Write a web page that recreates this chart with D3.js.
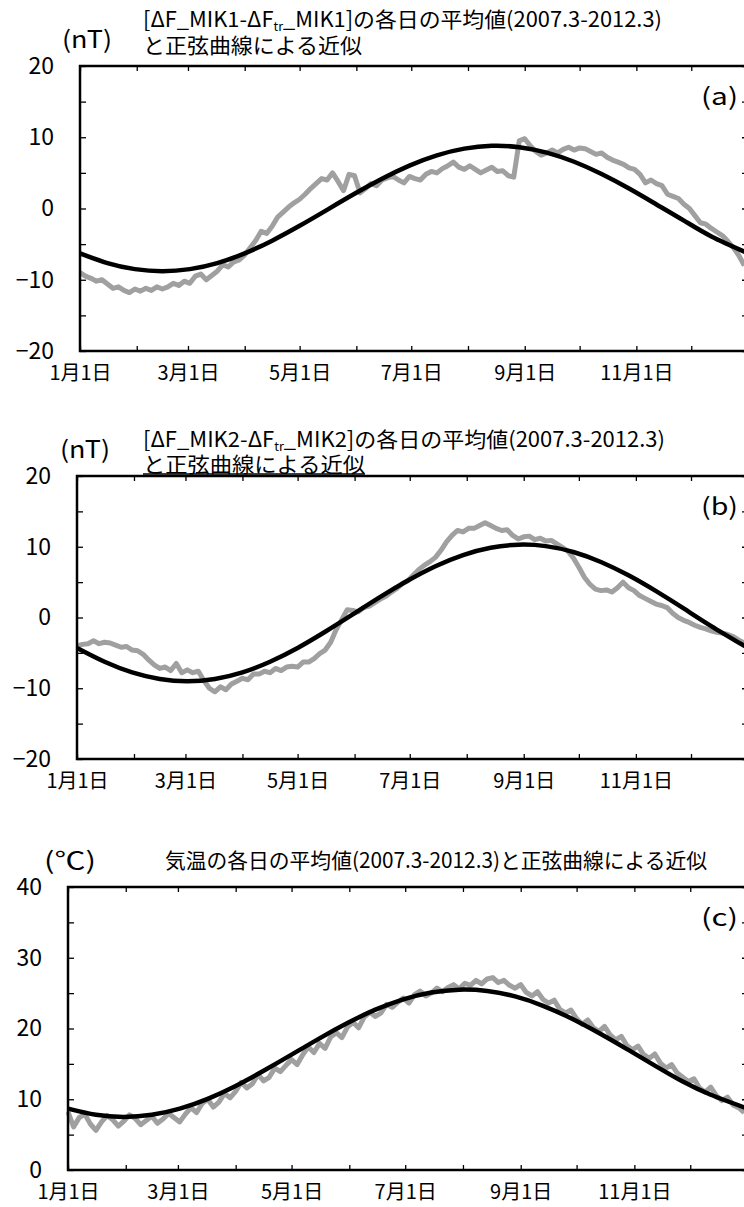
<!DOCTYPE html>
<html><head><meta charset="utf-8">
<script src="https://cdn.jsdelivr.net/npm/d3@7"></script>
<style>
html,body{margin:0;padding:0;background:#fff;}
svg{display:block;}
text{font-family:"Noto Sans CJK JP","Noto Sans",sans-serif;fill:#000;}
</style></head>
<body>
<script>
// ---- data ----
const monthStarts = [0,31,59,90,120,151,181,212,243,273,304,334,365];
const xTickLabels = ["1月1日","","3月1日","","5月1日","","7月1日","","9月1日","","11月1日","",""];
const yTicksNT = [-20,-15,-10,-5,0,5,10,15,20];
const yTicksC = [0,5,10,15,20,25,30,35,40];

const grayDays = d3.range(0, 364, 3); // every 3rd day of the year
const grayA = [-9.0,-9.5,-9.8,-10.2,-10.0,-10.6,-11.2,-11.0,-11.5,-11.8,
 -11.3,-11.6,-11.2,-11.5,-11.0,-11.3,-11.0,-10.5,-10.8,-10.2,
 -10.5,-9.5,-9.2,-10.0,-9.4,-8.8,-7.9,-8.2,-7.5,-7.2,
 -6.5,-5.5,-4.5,-3.2,-3.5,-2.5,-1.2,-0.5,0.2,0.8,
 1.3,2.0,2.8,3.5,4.2,4.0,5.0,3.8,2.5,4.8,
 4.6,2.2,2.8,3.5,3.2,4.0,4.3,4.5,4.0,3.6,
 4.5,4.2,4.0,4.8,5.2,5.0,5.6,6.0,6.5,5.8,
 5.5,6.0,5.5,5.0,5.4,5.8,5.2,5.3,4.6,4.4,
 9.5,9.8,8.8,8.0,7.5,7.8,8.2,7.8,8.3,8.6,
 8.2,8.5,8.4,8.0,7.6,7.8,7.2,6.8,6.5,6.2,
 5.7,5.5,4.8,3.6,4.0,3.5,3.2,2.0,1.7,1.4,
 0.6,0.0,-1.0,-2.0,-2.2,-2.8,-3.3,-3.8,-4.6,-5.5,
 -6.6,-8.0];
const grayB = [-4.0,-3.8,-3.7,-3.3,-3.7,-3.5,-3.6,-3.9,-4.2,-4.1,
 -4.6,-4.7,-5.2,-6.0,-6.7,-7.2,-7.0,-7.5,-6.5,-7.8,
 -7.4,-7.8,-7.6,-8.9,-10.0,-10.5,-9.8,-10.2,-9.4,-9.0,
 -8.6,-8.8,-8.0,-8.0,-7.6,-7.8,-7.2,-7.5,-7.0,-6.9,
 -7.0,-6.3,-6.3,-5.8,-5.1,-4.6,-3.5,-1.7,-0.3,1.1,
 1.0,0.8,1.4,1.6,2.1,2.6,3.0,3.6,4.1,4.8,
 5.2,6.0,6.8,7.4,7.9,8.5,9.5,10.7,11.6,12.3,
 12.1,12.6,12.6,13.0,13.4,13.0,12.6,12.3,12.4,11.6,
 11.1,11.4,11.5,11.0,11.2,10.8,10.9,10.4,9.9,9.4,
 8.4,7.1,5.7,4.7,4.0,3.8,3.9,3.6,4.2,5.0,
 4.2,3.8,3.1,2.7,2.3,1.9,1.7,1.4,0.6,0.0,
 -0.4,-0.7,-1.1,-1.4,-1.6,-1.9,-2.1,-2.2,-2.4,-2.7,
 -3.2,-3.6];
const grayC = [8.2,6.1,7.4,7.9,6.5,5.6,6.8,7.7,7.1,6.2,
 6.9,7.8,7.3,6.4,7.0,7.6,6.6,7.2,8.0,7.4,
 6.8,7.9,8.8,8.1,9.4,10.0,8.9,9.6,10.8,10.2,
 11.1,12.4,11.6,12.2,13.5,12.6,13.1,14.4,13.9,14.8,
 15.6,14.9,16.3,17.4,16.6,17.9,17.2,18.8,19.4,18.7,
 20.2,20.9,20.1,21.6,22.3,21.7,22.2,23.4,23.0,23.7,
 24.3,23.6,24.8,25.3,24.6,25.0,25.7,25.2,25.8,26.2,
 25.6,26.4,26.1,26.8,26.3,27.0,27.2,26.5,26.8,26.1,
 25.7,26.2,25.1,24.6,25.2,24.1,23.6,24.0,22.7,22.2,
 22.6,21.4,20.6,21.2,20.1,19.6,20.3,19.1,18.4,18.9,
 17.6,17.0,17.5,16.3,15.8,16.4,15.1,14.4,14.9,13.7,
 13.1,12.5,12.9,11.6,11.0,11.7,10.5,9.8,10.3,9.2,
 8.8,8.1];

const fitDays = [0,15,30,45,60,75,90,105,120,135,150,165,180,195,210,225,240,255,270,285,300,315,330,345,364];
const fitA = [-6.29,-7.66,-8.51,-8.80,-8.51,-7.66,-6.29,-4.51,-2.43,-0.19,2.06,4.17,6.02,7.46,8.40,8.79,8.61,7.85,6.56,4.84,2.80,0.57,-1.70,-3.92,-6.16];
const fitB = [-4.30,-6.25,-7.75,-8.68,-9.00,-8.68,-7.75,-6.25,-4.30,-2.01,0.44,2.91,5.22,7.25,8.83,9.86,10.29,10.09,9.26,7.85,5.96,3.72,1.28,-1.21,-4.17];
const fitC = [8.67,7.80,7.50,7.80,8.67,10.06,11.88,14.02,16.30,18.61,20.77,22.66,24.13,25.09,25.49,25.30,24.53,23.21,21.45,19.36,17.09,14.76,12.50,10.63,8.75];

const titleA = ["[ΔF_MIK1-ΔF", "tr", "_MIK1]の各日の平均値(2007.3-2012.3)", "と正弦曲線による近似"];
const titleB = ["[ΔF_MIK2-ΔF", "tr", "_MIK2]の各日の平均値(2007.3-2012.3)", "と正弦曲線による近似"];
const titleC = "気温の各日の平均値(2007.3-2012.3)と正弦曲線による近似";

// ---- layout ----
const W = 744, H = 1207;
const svg = d3.select("body").append("svg").attr("width", W).attr("height", H);

const panels = [
  {left:80, top:66, bottom:351, right:748, yDom:[-20,20], ticks:yTicksNT, gray:grayA, fit:fitA, tag:"(a)", labelX:54},
  {left:77, top:476, bottom:759, right:748, yDom:[-20,20], ticks:yTicksNT, gray:grayB, fit:fitB, tag:"(b)", labelX:51},
  {left:68, top:887, bottom:1170, right:748, yDom:[0,40], ticks:yTicksC, gray:grayC, fit:fitC, tag:"(c)", labelX:42}
];

const fmtNum = d => d < 0 ? "−" + Math.abs(d) : String(d);

panels.forEach((p, i) => {
  const x = d3.scaleLinear().domain([0,365]).range([p.left, p.right]);
  const y = d3.scaleLinear().domain(p.yDom).range([p.bottom, p.top]);
  const g = svg.append("g");

  // data lines
  const grayLine = d3.line().x((d,j)=>x(grayDays[j])).y(d=>y(d)).curve(d3.curveLinear);
  g.append("path").datum(p.gray).attr("d", grayLine)
    .attr("fill","none").attr("stroke","#a0a0a0").attr("stroke-width",5).attr("stroke-linejoin","round");
  const fitLine = d3.line().x((d,j)=>x(fitDays[j])).y(d=>y(d)).curve(d3.curveNatural);
  g.append("path").datum(p.fit).attr("d", fitLine)
    .attr("fill","none").attr("stroke","#000").attr("stroke-width",4.5);

  // axes
  const bottomAx = d3.axisBottom(x).tickValues(monthStarts).tickSize(-5).tickSizeOuter(0)
    .tickPadding(12).tickFormat((d,j)=>xTickLabels[j]);
  const gb = g.append("g").attr("transform",`translate(0,${p.bottom})`).call(bottomAx);
  gb.selectAll("text").style("font-size","20px").attr("dy","0.86em");
  const topAx = d3.axisTop(x).tickValues(monthStarts).tickSize(-5).tickSizeOuter(0).tickFormat("");
  g.append("g").attr("transform",`translate(0,${p.top})`).call(topAx);
  const leftAx = d3.axisLeft(y).tickValues(p.ticks).tickSize(-6).tickSizeOuter(0)
    .tickPadding(p.left - p.labelX).tickFormat(d => d % 10 === 0 ? fmtNum(d) : "");
  const gl = g.append("g").attr("transform",`translate(${p.left},0)`).call(leftAx);
  gl.selectAll("text").style("font-size","23px");
  const rightAx = d3.axisRight(y).tickValues(p.ticks).tickSize(-6).tickSizeOuter(0).tickFormat("");
  g.append("g").attr("transform",`translate(${p.right},0)`).call(rightAx);
  g.selectAll(".domain").remove();
  g.selectAll(".tick line").attr("stroke","#000").attr("stroke-width",1.3);

  // frame
  g.append("rect").attr("x",p.left).attr("y",p.top).attr("width",p.right-p.left).attr("height",p.bottom-p.top)
    .attr("fill","none").attr("stroke","#000").attr("stroke-width",2.5);

  // panel tag
  g.append("text").attr("x",738).attr("y",p.top+39).attr("text-anchor","end").style("font-size","24px")
    .attr("textLength",37).attr("lengthAdjust","spacingAndGlyphs").text(p.tag);
});

// units
svg.append("text").attr("x",62).attr("y",48).style("font-size","24px")
  .attr("textLength",50).attr("lengthAdjust","spacingAndGlyphs").text("(nT)");
svg.append("text").attr("x",60).attr("y",458).style("font-size","24px")
  .attr("textLength",50).attr("lengthAdjust","spacingAndGlyphs").text("(nT)");
svg.append("text").attr("x",44).attr("y",869).style("font-size","24px")
  .attr("textLength",52).attr("lengthAdjust","spacingAndGlyphs").text("(℃)");

// titles
function twoLineTitle(t, x0, y1, y2, len1, len2) {
  const t1 = svg.append("text").attr("x",x0).attr("y",y1).style("font-size","21px")
    .attr("textLength",len1).attr("lengthAdjust","spacingAndGlyphs");
  t1.append("tspan").text(t[0]);
  t1.append("tspan").attr("dy",4).style("font-size","12px").text(t[1]);
  t1.append("tspan").attr("dy",-4).text(t[2]);
  svg.append("text").attr("x",x0).attr("y",y2).style("font-size","21px")
    .attr("textLength",len2).attr("lengthAdjust","spacingAndGlyphs").text(t[3]);
}
twoLineTitle(titleA, 143, 27, 53, 519, 219);
twoLineTitle(titleB, 143, 447, 472, 522, 222);
svg.append("line").attr("x1",143).attr("x2",365).attr("y1",474).attr("y2",474).attr("stroke","#000").attr("stroke-width",1.3);
svg.append("text").attr("x",165).attr("y",868).style("font-size","21px")
  .attr("textLength",542).attr("lengthAdjust","spacingAndGlyphs").text(titleC);
</script>
</body></html>
